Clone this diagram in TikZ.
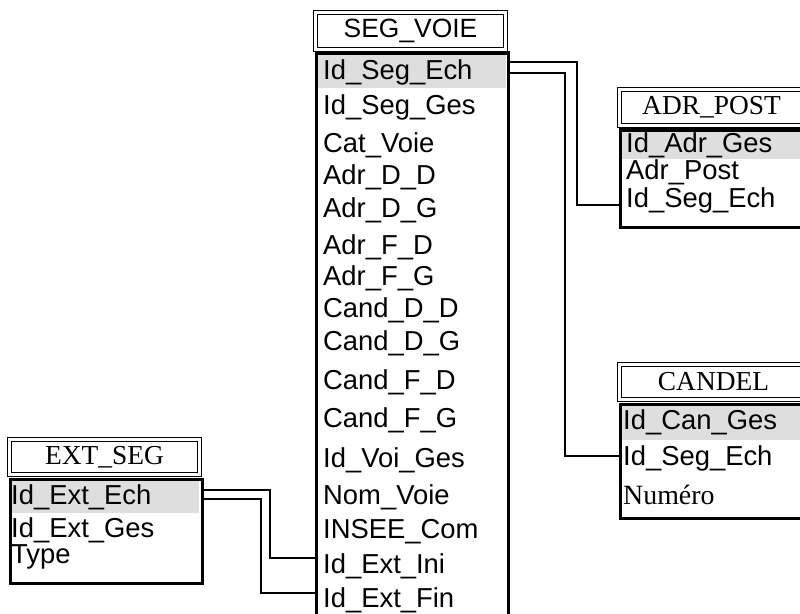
\documentclass[tikz,border=0pt]{standalone}
\usepackage{fontspec}
\setmainfont{Liberation Serif}
\setsansfont{Liberation Sans}
\usepackage{tikz}
\usetikzlibrary{positioning, calc}

\tikzset{
  hdr/.style={draw, double, double distance=2.2bp, line width=1.3bp, inner sep=0pt,
    font=\fontsize{27.5}{27.5}\selectfont},
  body/.style={draw, line width=3.2bp, inner sep=0pt, anchor=north west},
  keyrow/.style={fill=black!13},
  fld/.style={anchor=west, inner sep=0pt, font=\sffamily\fontsize{27.5}{27.5}\selectfont},
  link/.style={line width=1.8bp}
}

\begin{document}
\begin{tikzpicture}[x=1bp, y=-1bp]
    \useasboundingbox (0,0) rectangle (800,614);
    \clip (0,0) rectangle (800,614);
    % SEG_VOIE
    \node[hdr, minimum width=190bp, minimum height=37bp, font=\sffamily\fontsize{26.5}{26.5}\selectfont] (svh) at (410.5,31) {SEG\_VOIE};
    \fill[keyrow] (315,53) rectangle (506,88);
    \node[body, minimum width=192bp, minimum height=580bp] (sv) at (314.5,51.5) {};
    \foreach \n/\t/\y in {ech/Id\_Seg\_Ech/72, ges/Id\_Seg\_Ges/107, cat/Cat\_Voie/145,
        add/Adr\_D\_D/177, adg/Adr\_D\_G/210, afd/Adr\_F\_D/247, afg/Adr\_F\_G/278,
        cdd/Cand\_D\_D/310, cdg/Cand\_D\_G/343, cfd/Cand\_F\_D/382, cfg/Cand\_F\_G/420,
        voi/Id\_Voi\_Ges/460, nom/Nom\_Voie/497, insee/INSEE\_Com/532,
        ini/Id\_Ext\_Ini/566, fin/Id\_Ext\_Fin/600}
        \node[fld] (sv-\n) at (323,\y) {\t};
    % ADR_POST
    \node[hdr, minimum width=184bp, minimum height=36bp] (adrh) at (711.5,107.5) {ADR\_POST};
    \fill[keyrow] (620,130) rectangle (804,159);
    \node[body, minimum width=187bp, minimum height=97bp] (adr) at (618.5,128.5) {};
    \node[fld] (adr-ges) at (626,145) {Id\_Adr\_Ges};
    \node[fld] (adr-post) at (626,172) {Adr\_Post};
    \node[fld] (adr-seg) at (626,200) {Id\_Seg\_Ech};
    % CANDEL
    \node[hdr, minimum width=188bp, minimum height=35bp] (canh) at (713.5,382) {CANDEL};
    \fill[keyrow] (620,404) rectangle (806,440);
    \node[body, minimum width=190bp, minimum height=114bp] (can) at (618.5,402.5) {};
    \node[fld] (can-ges) at (623,422) {Id\_Can\_Ges};
    \node[fld] (can-seg) at (623,458) {Id\_Seg\_Ech};
    \node[fld, font=\rmfamily\fontsize{28}{28}\selectfont] (can-num) at (623,495) {Numéro};
    % EXT_SEG
    \node[hdr, minimum width=190bp, minimum height=35bp] (exth) at (104.5,457) {EXT\_SEG};
    \fill[keyrow] (10,479) rectangle (199,513);
    \node[body, minimum width=192bp, minimum height=104bp] (ext) at (8.5,477.5) {};
    \node[fld] (ext-ech) at (11,497) {Id\_Ext\_Ech};
    \node[fld] (ext-ges) at (11,530) {Id\_Ext\_Ges};
    \node[fld] (ext-type) at (11,557) {Type};
    % links between keys
    \draw[link] ($(sv-ech -| sv.east)+(0,-10)$) -- ++(67.5,0) |- ($(adr-seg -| adr.west)+(0,5)$);
    \draw[link] ($(sv-ech -| sv.east)+(0,1)$) -- ++(55.5,0) |- ($(can-seg -| can.west)+(0,-2)$);
    \draw[link] ($(ext-ech -| ext.east)+(0,-7)$) -- ++(66.5,0) |- ($(sv-ini -| sv.west)+(0,-8)$);
    \draw[link] ($(ext-ech -| ext.east)+(0,2)$) -- ++(57.5,0) |- ($(sv-fin -| sv.west)+(0,-7)$);
\end{tikzpicture}
\end{document}
